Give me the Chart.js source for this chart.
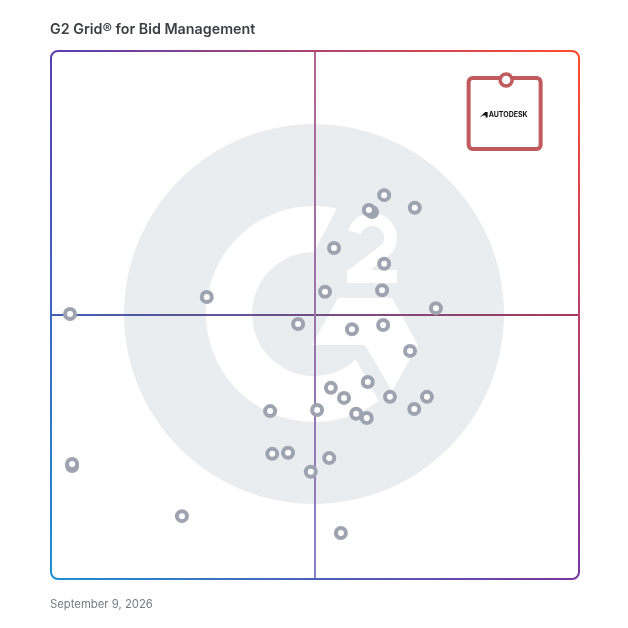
<!DOCTYPE html>
<html>
<head>
<meta charset="utf-8">
<script src="https://cdn.jsdelivr.net/npm/chart.js@4"></script>
<style>
  html, body { margin: 0; padding: 0; background: #fff; }
  #wrap { position: relative; width: 628px; height: 628px; overflow: hidden; }
  #grid { position: absolute; left: 0; top: 0; }
  .title { position: absolute; left: 50px; top: 20px; font: 600 14.3px Inter, sans-serif; color: #3c3e44; }
  .date { position: absolute; left: 50px; top: 597px; font: 400 11.3px Inter, sans-serif; color: #787b82; }
</style>
</head>
<body>
<div id="wrap">
  <canvas id="grid" width="628" height="628"></canvas>
  <div class="title">G2 Grid® for Bid Management</div>
  <div class="date">September 9, 2026</div>
</div>
<script>
// values, 0-100 on both axes
const satisfaction = [63.1, 68.9, 60.8, 60.2, 53.6, 63.1, 62.7, 51.9, 29.5, 72.9, 3.6, 46.8, 62.9, 57.0, 68.0, 60.0, 53.0, 55.5, 64.2, 71.2, 68.8, 41.5, 50.4, 57.8, 59.8, 41.9, 44.9, 52.7, 49.2, 4.0, 4.0, 24.8, 54.9];
const marketPresence = [72.7, 70.3, 69.5, 69.9, 62.7, 59.7, 54.7, 54.4, 53.4, 51.3, 50.2, 48.3, 48.1, 47.3, 43.2, 37.3, 36.2, 34.3, 34.5, 34.5, 32.2, 31.8, 32.0, 31.3, 30.5, 23.7, 23.9, 22.9, 20.3, 21.4, 21.8, 11.9, 8.7];
const featuredName = ['AUTODESK'];
const featuredX = [86.2];
const featuredY = [94.5];

const others = satisfaction.map((x, i) => ({ x, y: marketPresence[i] }));
const featured = featuredX.map((x, i) => ({ x, y: featuredY[i] }));

function edgeGradient(ctx, x0, y0, x1, y1, c0, c1) {
    const g = ctx.createLinearGradient(x0, y0, x1, y1);
    g.addColorStop(0, c0);
    g.addColorStop(1, c1);
    return g;
}

// grey G2 mark behind the points
const logoPlugin = {
    id: 'logo',
    beforeDatasetsDraw(chart) {
        const ctx = chart.ctx;
        const cx = chart.scales.x.getPixelForValue(50) - 1;
        const cy = chart.scales.y.getPixelForValue(50) - 1;
        ctx.save();
        ctx.fillStyle = '#eaedf0';
        ctx.beginPath();
        ctx.arc(cx, cy, 190, 0, Math.PI * 2);
        ctx.fill();

        ctx.fillStyle = '#fff';
        // the C ring
        const a0 = Math.atan2(207 - cy, 337 - cx);
        const a1 = Math.atan2(402 - cy, 380 - cx);
        ctx.beginPath();
        ctx.arc(cx, cy, 108, a0, a1, true);
        const b1 = Math.atan2(361 - cy, 357 - cx);
        ctx.arc(cx, cy, 62, b1, -Math.PI / 2, false);
        ctx.closePath();
        ctx.fill();

        // the chevron
        ctx.beginPath();
        ctx.moveTo(338, 298);
        ctx.lineTo(392, 298);
        ctx.lineTo(418, 345);
        ctx.lineTo(392, 391);
        ctx.lineTo(365, 345);
        ctx.lineTo(312, 345);
        ctx.closePath();
        ctx.fill();

        // the small 2
        ctx.strokeStyle = '#fff';
        ctx.lineWidth = 13;
        ctx.lineJoin = 'bevel';
        ctx.beginPath();
        ctx.arc(372, 238, 18.5, Math.PI * 1.1, Math.PI * 0.2, false);
        ctx.lineTo(353, 275);
        ctx.stroke();
        ctx.fillRect(347, 270, 50, 13);
        ctx.restore();
    }
};

// quadrant lines and the gradient frame
const framePlugin = {
    id: 'frame',
    beforeDatasetsDraw(chart) {
        const ctx = chart.ctx;
        const a = chart.chartArea;
        const mx = chart.scales.x.getPixelForValue(50);
        const my = chart.scales.y.getPixelForValue(50);
        ctx.save();
        ctx.lineWidth = 2;
        ctx.strokeStyle = edgeGradient(ctx, a.left, 0, a.right, 0, '#3f60b4', '#a83a5c');
        ctx.beginPath();
        ctx.moveTo(a.left, my);
        ctx.lineTo(a.right, my);
        ctx.stroke();
        ctx.strokeStyle = edgeGradient(ctx, 0, a.top, 0, a.bottom, '#b0668f', '#8680c8');
        ctx.beginPath();
        ctx.moveTo(mx, a.top);
        ctx.lineTo(mx, a.bottom);
        ctx.stroke();

        const r = 7;
        ctx.lineWidth = 2;
        ctx.lineCap = 'butt';
        const edges = [
            [a.left + r, a.top, a.right - r, a.top, '#5a3fb0', '#ff4a2e'],
            [a.right, a.top + r, a.right, a.bottom - r, '#ff4a2e', '#7a35a0'],
            [a.left + r, a.bottom, a.right - r, a.bottom, '#1e8fd0', '#7a35a0'],
            [a.left, a.top + r, a.left, a.bottom - r, '#5a3fb0', '#1e8fd0']
        ];
        edges.forEach(e => {
            ctx.strokeStyle = edgeGradient(ctx, e[0], e[1], e[2], e[3], e[4], e[5]);
            ctx.beginPath();
            ctx.moveTo(e[0], e[1]);
            ctx.lineTo(e[2], e[3]);
            ctx.stroke();
        });
        const corners = [
            [a.left + r, a.top + r, Math.PI, Math.PI * 1.5, '#5a3fb0'],
            [a.right - r, a.top + r, Math.PI * 1.5, Math.PI * 2, '#ff4a2e'],
            [a.right - r, a.bottom - r, 0, Math.PI / 2, '#7a35a0'],
            [a.left + r, a.bottom - r, Math.PI / 2, Math.PI, '#1e8fd0']
        ];
        corners.forEach(c => {
            ctx.strokeStyle = c[4];
            ctx.beginPath();
            ctx.arc(c[0], c[1], r, c[2], c[3]);
            ctx.stroke();
        });
        ctx.restore();
    }
};

// card hanging under the featured point, drawn before its marker
const cardPlugin = {
    id: 'card',
    beforeDatasetDraw(chart, args) {
        if (args.index !== 1) return;
        const ctx = chart.ctx;
        const p = chart.getDatasetMeta(1).data[0];
        ctx.save();
        ctx.lineWidth = 4;
        ctx.strokeStyle = '#c05a5c';
        ctx.fillStyle = '#fff';
        ctx.beginPath();
        ctx.roundRect(p.x - 37.5, p.y - 2, 72, 71, 4);
        ctx.fill();
        ctx.stroke();
        ctx.fillStyle = '#111';
        ctx.font = '700 7px Inter, sans-serif';
        ctx.textAlign = 'left';
        ctx.textBaseline = 'middle';
        ctx.fillText(featuredName[0], p.x - 17.5, p.y + 34.5);
        // small logo mark left of the name
        ctx.beginPath();
        ctx.moveTo(p.x - 26.5, p.y + 37.5);
        ctx.lineTo(p.x - 21, p.y + 32);
        ctx.lineTo(p.x - 18.5, p.y + 32);
        ctx.lineTo(p.x - 18.5, p.y + 37.5);
        ctx.lineTo(p.x - 20.5, p.y + 37.5);
        ctx.lineTo(p.x - 20.5, p.y + 35.5);
        ctx.lineTo(p.x - 23, p.y + 35.5);
        ctx.closePath();
        ctx.fill();
        ctx.restore();
    }
};

new Chart(document.getElementById('grid').getContext('2d'), {
    type: 'scatter',
    data: {
        datasets: [
            {
                label: 'Products',
                data: others,
                pointRadius: 5,
                pointHoverRadius: 5,
                pointBorderWidth: 4,
                pointBorderColor: '#9ea3b0',
                pointBackgroundColor: '#fff'
            },
            {
                label: featuredName[0],
                data: featured,
                pointRadius: 6,
                pointHoverRadius: 6,
                pointBorderWidth: 3.5,
                pointBorderColor: '#c05a5c',
                pointBackgroundColor: '#fff'
            }
        ]
    },
    options: {
        responsive: false,
        animation: false,
        layout: { padding: { left: 51, top: 51, right: 49, bottom: 49 } },
        scales: {
            x: { type: 'linear', min: 0, max: 100, display: false },
            y: { type: 'linear', min: 0, max: 100, display: false }
        },
        plugins: {
            legend: { display: false },
            tooltip: { enabled: false }
        }
    },
    plugins: [logoPlugin, framePlugin, cardPlugin]
});
</script>
</body>
</html>
